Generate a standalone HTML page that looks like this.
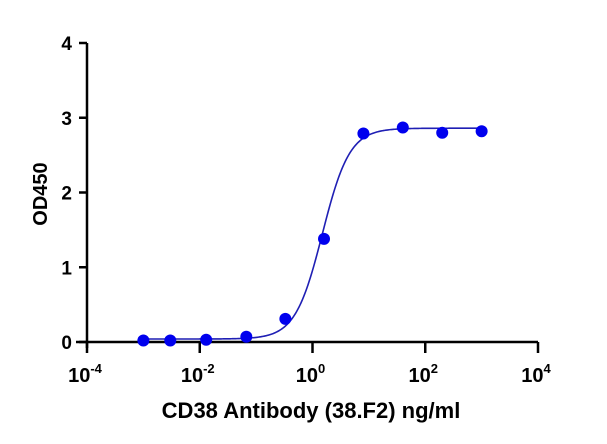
<!DOCTYPE html>
<html><head><meta charset="utf-8"><style>
body{margin:0;background:#fff;}
svg{display:block;font-family:"Liberation Sans",Arial,sans-serif;font-weight:bold;}
</style></head><body>
<svg id="chart" width="607" height="444"></svg>
<script>
const concentrations=[0.001,0.003,0.013,0.067,0.33,1.6,8,40,200,1000];
const od450=[0.02,0.02,0.03,0.07,0.31,1.38,2.79,2.87,2.80,2.82];
const yTicks=[0,1,2,3,4];
const xTickExps=[-4,-2,0,2,4];
const fitBottom=[0.04];
const fitTop=[2.86];
const fitEC50=[1.5];
const fitHill=[1.8];
const NS="http://www.w3.org/2000/svg";
const svg=document.getElementById('chart');
const X0=87,X1=538,Y0=342,Y1=43;
function xs(v){return X0+(Math.log10(v)+4)/8*(X1-X0);}
function ys(v){return Y0-v/4*(Y0-Y1);}
function mk(t,a,p){const e=document.createElementNS(NS,t);for(const k in a)e.setAttribute(k,a[k]);(p||svg).appendChild(e);return e;}
let ax=mk('line',{x1:X0,y1:Y1,x2:X0,y2:348,stroke:'#000','stroke-width':2.5});


ax=mk('line',{x1:76,y1:Y0,x2:X1,y2:Y0,stroke:'#000','stroke-width':2.5});


yTicks.forEach(v=>{
  const y=ys(v);
  const t=mk('line',{x1:X0-8,y1:y,x2:X0,y2:y,stroke:'#000','stroke-width':2.5});
  
  
  const l=mk('text',{x:X0-15,y:y+7,'text-anchor':'end','font-size':19});
  l.textContent=v;
  
  
});
xTickExps.forEach(e=>{
  const x=xs(Math.pow(10,e));
  const t=mk('line',{x1:x,y1:Y0,x2:x,y2:Y0+11,stroke:'#000','stroke-width':2.5});
  
  
  const l=mk('text',{x:x-2,y:Y0+40,'text-anchor':'middle','font-size':20});
  
  
  l.innerHTML='10<tspan dy="-9" font-size="13">'+e+'</tspan>';
});
let d='';
for(let i=0;i<=300;i++){
  const lx=-3+i/300*6, c=Math.pow(10,lx);
  const v=fitBottom[0]+(fitTop[0]-fitBottom[0])/(1+Math.pow(fitEC50[0]/c,fitHill[0]));
  d+=(i?'L':'M')+xs(c).toFixed(2)+','+ys(v).toFixed(2);
}
const curve=mk('path',{d:d,fill:'none',stroke:'#1f1fb4','stroke-width':1.6});


concentrations.forEach((c,i)=>{
  const p=mk('circle',{cx:xs(c),cy:ys(od450[i]),r:6,fill:'#0000ee'});
  
  
});
const yt=mk('text',{x:0,y:0,'text-anchor':'middle','font-size':20,transform:'translate(47,194) rotate(-90)'});
yt.textContent='OD450';


const xt=mk('text',{x:311,y:418,'text-anchor':'middle','font-size':22});
xt.textContent='CD38 Antibody (38.F2) ng/ml';


</script>
</body></html>
